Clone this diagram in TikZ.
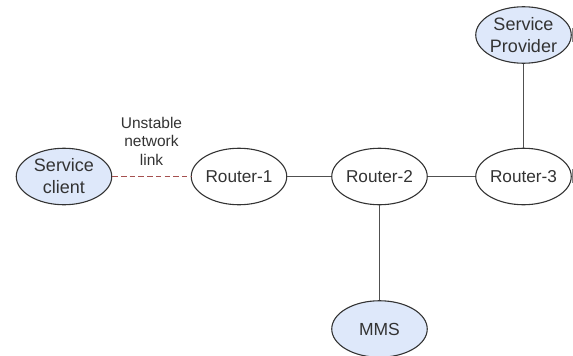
\documentclass[tikz,border=0pt]{standalone}
\usepackage{fontspec}
\setmainfont{Liberation Sans}
\usetikzlibrary{shapes.geometric}
\definecolor{edgegray}{HTML}{505050}
\definecolor{outlinegray}{HTML}{333333}
\definecolor{svcfill}{HTML}{DEE8FA}
\definecolor{linkred}{HTML}{A5504F}
\definecolor{textgray}{HTML}{333333}
\tikzset{
  router/.style={ellipse,draw=outlinegray,line width=1.1pt,fill=white,minimum width=95.5pt,minimum height=56.5pt,inner sep=0pt,align=center,text=textgray,font=\fontsize{17.2}{22}\selectfont},
  svc/.style={router,fill=svcfill,font=\fontsize{18}{22}\selectfont},
  link/.style={draw=edgegray,line width=1.7pt},
  flaky/.style={draw=linkred,line width=1.5pt,dash pattern=on 5.5pt off 3.2pt},
  lbl/.style={align=center,text=textgray,inner sep=0pt,font=\fontsize{15.5}{18.5}\selectfont},
  stub/.style={draw=edgegray!70,line width=2pt}
}
\begin{document}
\begin{tikzpicture}[x=1pt,y=-1pt]
\useasboundingbox (0,0) rectangle (573,356);
\clip (0,0) rectangle (573,356);
\node[svc] (client) at (64,176.5) {Service\\client};
\node[router] (r1) at (239,176.5) {Router-1};
\node[router] (r2) at (379.5,176.5) {Router-2};
\node[router] (r3) at (523.5,176.5) {Router-3};
\node[svc] (provider) at (523.5,35) {Service\\Provider};
\node[svc,font=\fontsize{17.5}{22}\selectfont] (mms) at (379.5,329) {MMS};
\node[lbl] (unstable) at (151.5,141) {Unstable\\network\\link};
\draw[flaky] (client) -- (r1);
\draw[link] (r1) -- (r2);
\draw[link] (r2) -- (r3);
\draw[link] (r2) -- (mms);
\draw[link] (r3) -- (provider);
\coordinate (pa) at (572.5,28);
\coordinate (pb) at (572.5,42);
\coordinate (ra) at (572.5,169);
\coordinate (rb) at (572.5,183);
\draw[stub] (pa) -- (pb);
\draw[stub] (ra) -- (rb);
\end{tikzpicture}
\end{document}
